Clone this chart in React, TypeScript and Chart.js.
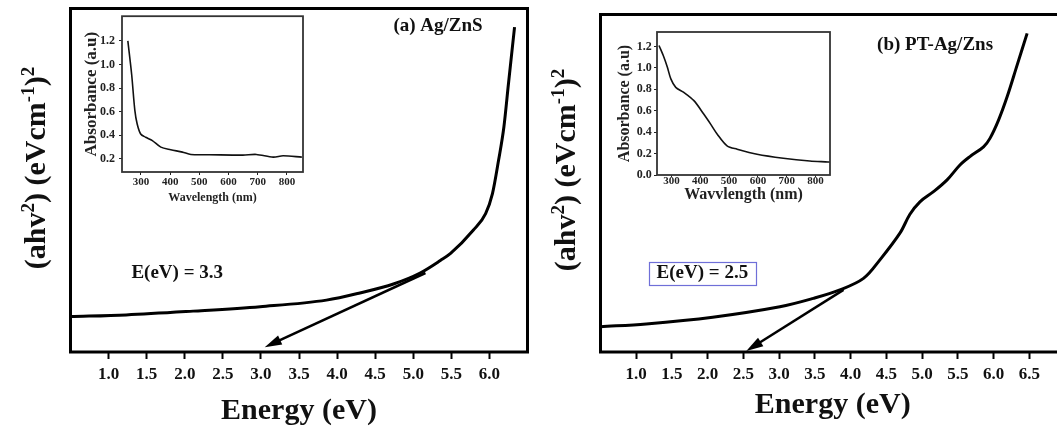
import React, { useEffect, useRef } from 'react';
import { Chart, registerables } from 'chart.js';

Chart.register(...registerables);

const FONT = '"Liberation Serif", "Times New Roman", Times, serif';

// ---------- Data ----------
// Panel (a) Ag/ZnS : Tauc plot
const energyA = [0.5, 1.23, 2.11, 2.99, 3.86, 4.3, 4.74, 5.09, 5.36, 5.49, 5.79, 5.95, 6.04, 6.12, 6.19, 6.25, 6.33];
const taucA = [0.103, 0.108, 0.119, 0.132, 0.151, 0.172, 0.198, 0.23, 0.267, 0.287, 0.355, 0.403, 0.461, 0.558, 0.655, 0.781, 0.946];
// Panel (b) PT-Ag/Zns : Tauc plot
const energyB = [0.5, 1.14, 2.07, 3.01, 3.48, 3.85, 4.18, 4.41, 4.69, 4.83, 4.97, 5.16, 5.35, 5.53, 5.67, 5.86, 5.95, 6.07, 6.19, 6.33, 6.47];
const taucB = [0.075, 0.083, 0.103, 0.134, 0.159, 0.184, 0.218, 0.273, 0.352, 0.408, 0.445, 0.475, 0.51, 0.554, 0.579, 0.608, 0.633, 0.687, 0.756, 0.85, 0.944];

// Insets: absorbance spectra
const wavelengthA = [255, 268, 279, 287, 299, 316, 339, 368, 402, 442, 471, 534, 649, 695, 753, 787, 851];
const absorbanceA = [1.2, 0.917, 0.61, 0.495, 0.41, 0.382, 0.354, 0.298, 0.276, 0.256, 0.236, 0.234, 0.23, 0.236, 0.213, 0.225, 0.213];
const wavelengthB = [257, 274, 286, 298, 315, 343, 378, 412, 436, 459, 493, 528, 597, 688, 780, 843, 850];
const absorbanceB = [1.209, 1.1, 1.006, 0.897, 0.818, 0.771, 0.694, 0.569, 0.475, 0.381, 0.272, 0.241, 0.194, 0.157, 0.131, 0.122, 0.12];

// Extrapolation arrows [energy, value]
const arrowFromA = [5.16, 0.23];
const arrowToA = [3.05, 0.014];
const arrowFromB = [3.9, 0.184];
const arrowToB = [2.54, 0.003];

// Tick labels
const energyTicksA = [1.0, 1.5, 2.0, 2.5, 3.0, 3.5, 4.0, 4.5, 5.0, 5.5, 6.0];
const energyTicksB = [1.0, 1.5, 2.0, 2.5, 3.0, 3.5, 4.0, 4.5, 5.0, 5.5, 6.0, 6.5];
const wavelengthTicks = [300, 400, 500, 600, 700, 800];
const absTicksA = [0.2, 0.4, 0.6, 0.8, 1.0, 1.2];
const absTicksB = [0.0, 0.2, 0.4, 0.6, 0.8, 1.0, 1.2];

// Texts
const yTitleParts = [
  { text: '(ahv', sup: false },
  { text: '2', sup: true },
  { text: ') (eVcm', sup: false },
  { text: '-1', sup: true },
  { text: ')', sup: false },
  { text: '2', sup: true },
];
const xTitle = 'Energy (eV)';
const labelA = '(a) Ag/ZnS';
const labelB = '(b) PT-Ag/Zns';
const gapA = 'E(eV) = 3.3';
const gapB = 'E(eV) = 2.5';
const insetYTitle = 'Absorbance (a.u)';
const insetXTitleA = 'Wavelength (nm)';
const insetXTitleB = 'Wavvlength (nm)';

// ---------- Plugins ----------
function framePlugin(width: number, color: string) {
  return {
    id: 'frame',
    afterDatasetsDraw(chart: any) {
      const { ctx, chartArea: a } = chart;
      ctx.save();
      ctx.strokeStyle = color;
      ctx.lineWidth = width;
      ctx.strokeRect(a.left, a.top, a.right - a.left, a.bottom - a.top);
      ctx.restore();
    },
  };
}

function yTitlePlugin(x: number, yc: number) {
  return {
    id: 'ytitle',
    afterDraw(chart: any) {
      const ctx = chart.ctx;
      const big = `bold 30px ${FONT}`;
      const small = `bold 19px ${FONT}`;
      ctx.save();
      ctx.translate(x, yc);
      ctx.rotate(-Math.PI / 2);
      let total = 0;
      for (const s of yTitleParts) {
        ctx.font = s.sup ? small : big;
        total += ctx.measureText(s.text).width;
      }
      let pos = -total / 2;
      ctx.fillStyle = '#111';
      ctx.textAlign = 'left';
      ctx.textBaseline = 'alphabetic';
      for (const s of yTitleParts) {
        ctx.font = s.sup ? small : big;
        ctx.fillText(s.text, pos, s.sup ? -11 : 0);
        pos += ctx.measureText(s.text).width;
      }
      ctx.restore();
    },
  };
}

type Note = { text: string; at: number[]; size: number; box?: string };

function notesPlugin(notes: Note[], from: number[], to: number[]) {
  return {
    id: 'notes',
    afterDatasetsDraw(chart: any) {
      const { ctx } = chart;
      const xs = chart.scales.x;
      const ys = chart.scales.y;
      const x1 = xs.getPixelForValue(from[0]);
      const y1 = ys.getPixelForValue(from[1]);
      const x2 = xs.getPixelForValue(to[0]);
      const y2 = ys.getPixelForValue(to[1]);
      const ang = Math.atan2(y2 - y1, x2 - x1);
      const hl = 17;
      const hw = 5;
      const bx = x2 - hl * Math.cos(ang);
      const by = y2 - hl * Math.sin(ang);
      ctx.save();
      ctx.strokeStyle = '#000';
      ctx.fillStyle = '#000';
      ctx.lineWidth = 2.5;
      ctx.beginPath();
      ctx.moveTo(x1, y1);
      ctx.lineTo(bx + 2 * Math.cos(ang), by + 2 * Math.sin(ang));
      ctx.stroke();
      ctx.beginPath();
      ctx.moveTo(x2, y2);
      ctx.lineTo(bx + hw * Math.sin(ang), by - hw * Math.cos(ang));
      ctx.lineTo(bx - hw * Math.sin(ang), by + hw * Math.cos(ang));
      ctx.closePath();
      ctx.fill();

      for (const n of notes) {
        const px = xs.getPixelForValue(n.at[0]);
        const py = ys.getPixelForValue(n.at[1]);
        ctx.font = `bold ${n.size}px ${FONT}`;
        ctx.fillStyle = '#111';
        ctx.textAlign = 'left';
        ctx.textBaseline = 'middle';
        ctx.fillText(n.text, px, py);
        if (n.box) {
          const w = ctx.measureText(n.text).width;
          ctx.strokeStyle = n.box;
          ctx.lineWidth = 1.2;
          ctx.strokeRect(Math.round(px - 8) + 0.5, Math.round(py - 11.5) + 0.5, Math.round(w + 15), 23);
        }
      }
      ctx.restore();
    },
  };
}

// ---------- Chart builders ----------
function makeMain(
  canvas: HTMLCanvasElement,
  energy: number[],
  values: number[],
  ticks: number[],
  max: number,
  pad: { left: number; top: number; right: number },
  titleBottom: number,
  yTitleY: number,
  notes: Note[],
  from: number[],
  to: number[],
  smoothing: any
) {
  return new Chart(canvas, {
    type: 'line',
    data: {
      datasets: [
        {
          data: energy.map((e, i) => ({ x: e, y: values[i] })),
          borderColor: '#000',
          borderWidth: 3,
          pointRadius: 0,
          fill: false,
          ...smoothing,
        },
      ],
    },
    options: {
      animation: false,
      responsive: false,
      devicePixelRatio: 1,
      layout: { padding: { left: pad.left, top: pad.top, right: pad.right, bottom: 0 } },
      plugins: { legend: { display: false }, tooltip: { enabled: false } },
      scales: {
        x: {
          type: 'linear',
          min: 0.5,
          max,
          afterBuildTicks: (s: any) => {
            s.ticks = ticks.map((v) => ({ value: v }));
          },
          afterFit: (s: any) => {
            s.height = 75;
          },
          grid: {
            display: true,
            drawOnChartArea: false,
            drawTicks: true,
            tickLength: 7,
            tickWidth: 2,
            tickColor: '#000',
            color: '#000',
          },
          border: { display: false },
          ticks: {
            color: '#111',
            font: { family: FONT, size: 17, weight: 'bold' },
            padding: 5,
            maxRotation: 0,
            autoSkip: false,
            callback: (v: any) => Number(v).toFixed(1),
          },
          title: {
            display: true,
            text: xTitle,
            color: '#111',
            font: { family: FONT, size: 30, weight: 'bold' },
            padding: { top: 0, bottom: titleBottom },
          },
        },
        y: { type: 'linear', min: 0, max: 1, display: false },
      },
    } as any,
    plugins: [framePlugin(3, '#000'), yTitlePlugin(45, yTitleY), notesPlugin(notes, from, to)] as any,
  });
}

function makeInset(
  canvas: HTMLCanvasElement,
  wl: number[],
  ab: number[],
  cfg: {
    xmin: number; xmax: number; ymin: number; ymax: number; yTicks: number[];
    pad: { top: number; right: number }; yWidth: number; xHeight: number;
    xTitle: string; xTitleSize: number; xTitleBottom: number; xTickPad: number; xTickLen: number;
    yTitleSize: number; yTitleTop: number; yTickPad: number;
  }
) {
  return new Chart(canvas, {
    type: 'line',
    data: {
      datasets: [
        {
          data: wl.map((w, i) => ({ x: w, y: ab[i] })),
          borderColor: '#111',
          borderWidth: 1.6,
          pointRadius: 0,
          tension: 0.3,
          fill: false,
        },
      ],
    },
    options: {
      animation: false,
      responsive: false,
      devicePixelRatio: 1,
      layout: { padding: { left: 0, top: cfg.pad.top, right: cfg.pad.right, bottom: 0 } },
      plugins: { legend: { display: false }, tooltip: { enabled: false } },
      scales: {
        x: {
          type: 'linear',
          min: cfg.xmin,
          max: cfg.xmax,
          afterBuildTicks: (s: any) => {
            s.ticks = wavelengthTicks.map((v) => ({ value: v }));
          },
          afterFit: (s: any) => {
            s.height = cfg.xHeight;
          },
          grid: { display: true, drawOnChartArea: false, tickLength: cfg.xTickLen, tickWidth: 1, tickColor: '#222', color: '#222' },
          border: { display: false },
          ticks: {
            color: '#222',
            font: { family: FONT, size: 11, weight: 'bold' },
            padding: cfg.xTickPad,
            maxRotation: 0,
            autoSkip: false,
            callback: (v: any) => String(v),
          },
          title: {
            display: true,
            text: cfg.xTitle,
            color: '#222',
            font: { family: FONT, size: cfg.xTitleSize, weight: 'bold' },
            padding: { top: 0, bottom: cfg.xTitleBottom },
          },
        },
        y: {
          type: 'linear',
          min: cfg.ymin,
          max: cfg.ymax,
          afterBuildTicks: (s: any) => {
            s.ticks = cfg.yTicks.map((v) => ({ value: v }));
          },
          afterFit: (s: any) => {
            s.width = cfg.yWidth;
          },
          grid: { display: true, drawOnChartArea: false, tickLength: 3, tickWidth: 1, tickColor: '#222', color: '#222' },
          border: { display: false },
          ticks: {
            color: '#222',
            font: { family: FONT, size: 12, weight: 'bold' },
            padding: cfg.yTickPad,
            autoSkip: false,
            callback: (v: any) => Number(v).toFixed(1),
          },
          title: {
            display: true,
            text: insetYTitle,
            color: '#222',
            font: { family: FONT, size: cfg.yTitleSize, weight: 'bold' },
            padding: { top: cfg.yTitleTop, bottom: 0 },
          },
        },
      },
    } as any,
    plugins: [framePlugin(1.8, '#333')] as any,
  });
}

export default function App() {
  const mainA = useRef<HTMLCanvasElement>(null);
  const mainB = useRef<HTMLCanvasElement>(null);
  const insA = useRef<HTMLCanvasElement>(null);
  const insB = useRef<HTMLCanvasElement>(null);

  useEffect(() => {
    const charts: Chart[] = [];
    charts.push(
      makeMain(mainA.current!, energyA, taucA, energyTicksA, 6.5, { left: 70.5, top: 8.5, right: 2.5 }, -2, 168,
        [
          { text: labelA, at: [4.74, 0.948], size: 19 },
          { text: gapA, at: [1.3, 0.231], size: 19 },
        ], arrowFromA, arrowToA, { cubicInterpolationMode: 'monotone' })
    );
    charts.push(
      makeMain(mainB.current!, energyB, taucB, energyTicksB, 7.0, { left: 70.5, top: 14.5, right: 10 }, 4, 170,
        [
          { text: labelB, at: [4.37, 0.908], size: 19 },
          { text: gapB, at: [1.285, 0.234], size: 19, box: '#6f6fd8' },
        ], arrowFromB, arrowToB, { tension: 0.35 })
    );
    charts.push(
      makeInset(insA.current!, wavelengthA, absorbanceA, {
        xmin: 235, xmax: 855, ymin: 0.087, ymax: 1.41, yTicks: absTicksA,
        pad: { top: 10, right: 7 }, yWidth: 42, xHeight: 38,
        xTitle: insetXTitleA, xTitleSize: 12, xTitleBottom: 4.8, xTickPad: 1, xTickLen: 3,
        yTitleSize: 17, yTitleTop: 1.8, yTickPad: 4,
      })
    );
    charts.push(
      makeInset(insB.current!, wavelengthB, absorbanceB, {
        xmin: 250, xmax: 850, ymin: 0, ymax: 1.335, yTicks: absTicksB,
        pad: { top: 12, right: 10 }, yWidth: 47, xHeight: 45,
        xTitle: insetXTitleB, xTitleSize: 16, xTitleBottom: 15.4, xTickPad: -2, xTickLen: 2,
        yTitleSize: 16, yTitleTop: 5.4, yTickPad: 2.3,
      })
    );
    return () => charts.forEach((c) => c.destroy());
  }, []);

  return (
    <div
      style={{
        position: 'fixed',
        left: 0,
        top: 0,
        width: 1057,
        height: 427,
        overflow: 'hidden',
        background: '#fff',
      }}
    >
      <canvas ref={mainA} width={530} height={427} style={{ position: 'absolute', left: 0, top: 0 }} />
      <canvas ref={mainB} width={545} height={427} style={{ position: 'absolute', left: 530, top: 0 }} />
      <canvas ref={insA} width={230} height={205} style={{ position: 'absolute', left: 80, top: 5 }} />
      <canvas ref={insB} width={230} height={200} style={{ position: 'absolute', left: 610, top: 20 }} />
    </div>
  );
}
